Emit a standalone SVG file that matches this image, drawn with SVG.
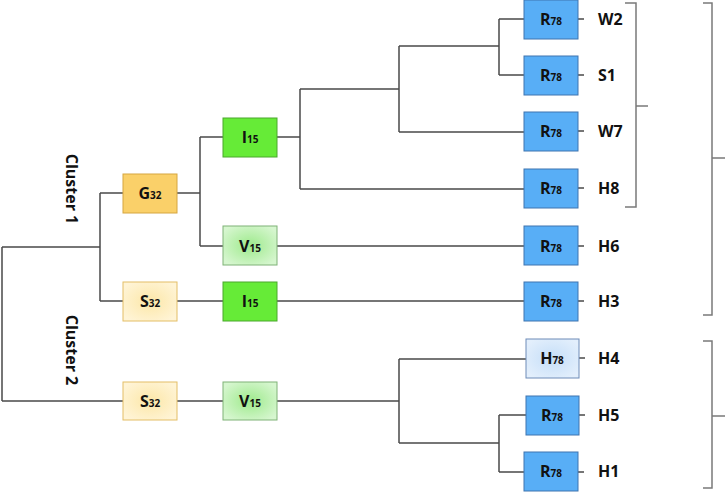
<svg xmlns="http://www.w3.org/2000/svg" width="725" height="492" viewBox="0 0 725 492">
<defs>
<radialGradient id="gS" cx="50%" cy="50%" r="60%"><stop offset="0" stop-color="#FCE7A8"/><stop offset="1" stop-color="#FFF4D6"/></radialGradient>
<radialGradient id="gV" cx="50%" cy="50%" r="60%"><stop offset="0" stop-color="#9EEA8C"/><stop offset="1" stop-color="#D6F6CF"/></radialGradient>
<radialGradient id="gH" cx="50%" cy="50%" r="60%"><stop offset="0" stop-color="#C5DEF8"/><stop offset="1" stop-color="#E3EFFC"/></radialGradient>
</defs>
<style>
.ln{fill:none;stroke:#4a4a4a;stroke-width:1.5}
.br{fill:none;stroke:#7a7a7a;stroke-width:1.5}
.t{font-family:"Open Sans","Liberation Sans",sans-serif;font-weight:bold;fill:#111}
.nl{font-size:16px}
.sub{font-size:10px}
.lb{font-size:16px}
.R{fill:#58AEF6;stroke:#3E74B0;stroke-width:1}
.G{fill:#FAD069;stroke:#D6A640;stroke-width:1}
.S{fill:url(#gS);stroke:#E3BE67;stroke-width:1}
.I{fill:#66EB37;stroke:#4AA82C;stroke-width:1}
.V{fill:url(#gV);stroke:#7FB277;stroke-width:1}
.H{fill:url(#gH);stroke:#6E8CB8;stroke-width:1}
</style>
<g id="connectors">
<path class="ln" d="M2,247V401M2,247H100M100,193V301M100,193H123M100,301H123M2,401H123"/>
<path class="ln" d="M177,193H200M200,137V246M200,137H223M200,246H223"/>
<path class="ln" d="M277,137H300M300,89V189M300,89H399M399,46V132M399,46H499M499,19V75M499,19H524M499,75H524M399,132H524M300,189H524"/>
<path class="ln" d="M277,246H524M177,301H223M277,301H524"/>
<path class="ln" d="M177,401H223M277,401H399M399,359V443M399,359H526M399,443H499M499,415V472M499,415H526M499,472H524"/>
<path class="ln" d="M578,19H584M578,75H584M578,131H584M578,188H584M578,246H584M578,301H584M579,358H585M579,415H585M578,472H584"/>
</g>
<g id="brackets">
<path class="br" d="M625,3H636V207H625M636,106H648"/>
<path class="br" d="M703,3H712V315H703M712,158H725"/>
<path class="br" d="M703,341H712V488H703M712,416H725"/>
</g>
<g id="cluster1"><text class="t" font-size="16" transform="translate(66,189) rotate(90)" text-anchor="middle">Cluster 1</text></g>
<g id="cluster2"><text class="t" font-size="16" transform="translate(66,350) rotate(90)" text-anchor="middle">Cluster 2</text></g>
<g id="G32"><rect class="G" x="123" y="174" width="54" height="39"/><text class="t nl" x="150" y="199" text-anchor="middle">G<tspan class="sub">32</tspan></text></g>
<g id="S32a"><rect class="S" x="123" y="282" width="54" height="39"/><text class="t nl" x="150" y="307" text-anchor="middle">S<tspan class="sub">32</tspan></text></g>
<g id="S32b"><rect class="S" x="123" y="382" width="54" height="38"/><text class="t nl" x="150" y="407" text-anchor="middle">S<tspan class="sub">32</tspan></text></g>
<g id="I15a"><rect class="I" x="223" y="118" width="54" height="39"/><text class="t nl" x="250" y="143" text-anchor="middle">I<tspan class="sub">15</tspan></text></g>
<g id="V15a"><rect class="V" x="223" y="226" width="54" height="39"/><text class="t nl" x="250" y="252" text-anchor="middle">V<tspan class="sub">15</tspan></text></g>
<g id="I15b"><rect class="I" x="223" y="282" width="54" height="39"/><text class="t nl" x="250" y="307" text-anchor="middle">I<tspan class="sub">15</tspan></text></g>
<g id="V15b"><rect class="V" x="223" y="382" width="54" height="38"/><text class="t nl" x="250" y="407" text-anchor="middle">V<tspan class="sub">15</tspan></text></g>
<g id="W2"><rect class="R" x="524" y="0" width="54" height="39"/><text class="t nl" x="551" y="25" text-anchor="middle">R<tspan class="sub">78</tspan></text><text class="t lb" x="598" y="25">W2</text></g>
<g id="S1"><rect class="R" x="524" y="56" width="54" height="39"/><text class="t nl" x="551" y="81" text-anchor="middle">R<tspan class="sub">78</tspan></text><text class="t lb" x="598" y="81">S1</text></g>
<g id="W7"><rect class="R" x="524" y="112" width="54" height="39"/><text class="t nl" x="551" y="137" text-anchor="middle">R<tspan class="sub">78</tspan></text><text class="t lb" x="598" y="137">W7</text></g>
<g id="H8"><rect class="R" x="524" y="169" width="54" height="39"/><text class="t nl" x="551" y="194" text-anchor="middle">R<tspan class="sub">78</tspan></text><text class="t lb" x="598" y="194">H8</text></g>
<g id="H6"><rect class="R" x="524" y="226" width="54" height="39"/><text class="t nl" x="551" y="252" text-anchor="middle">R<tspan class="sub">78</tspan></text><text class="t lb" x="598" y="252">H6</text></g>
<g id="H3"><rect class="R" x="524" y="282" width="54" height="39"/><text class="t nl" x="551" y="307" text-anchor="middle">R<tspan class="sub">78</tspan></text><text class="t lb" x="598" y="307">H3</text></g>
<g id="H4"><rect class="H" x="526" y="339" width="53" height="39"/><text class="t nl" x="552" y="364" text-anchor="middle">H<tspan class="sub">78</tspan></text><text class="t lb" x="598" y="364">H4</text></g>
<g id="H5"><rect class="R" x="526" y="396" width="53" height="39"/><text class="t nl" x="552" y="421" text-anchor="middle">R<tspan class="sub">78</tspan></text><text class="t lb" x="598" y="421">H5</text></g>
<g id="H1"><rect class="R" x="524" y="452" width="54" height="39"/><text class="t nl" x="551" y="477" text-anchor="middle">R<tspan class="sub">78</tspan></text><text class="t lb" x="598" y="477">H1</text></g>
</svg>
